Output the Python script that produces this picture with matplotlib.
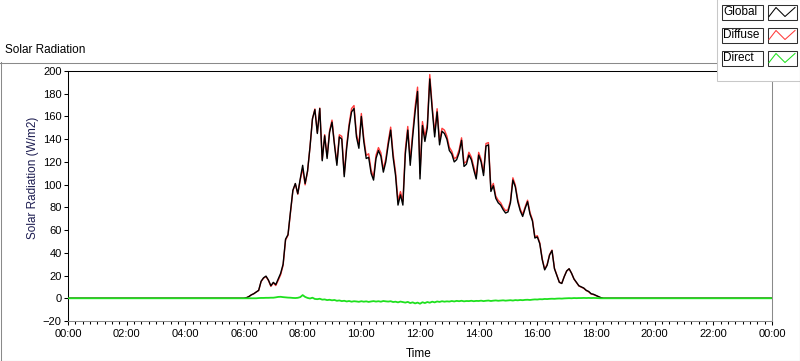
import matplotlib
matplotlib.use("Agg")
import matplotlib.pyplot as plt
import numpy as np
from matplotlib.patches import Rectangle
from matplotlib.lines import Line2D
from matplotlib.ticker import MultipleLocator, FuncFormatter

plt.rcParams["font.family"] = ["Liberation Sans", "DejaVu Sans"]

# series, 5-minute steps from 06:00 to 18:15 (W/m2)
series_names = ["Global", "Diffuse", "Direct"]
series_colors = ["#000000", "#ff3a3a", "#1ee01e"]

day_start_min = 6 * 60
step_min = 5

global_rad = [
    0, 0.5, 1.5, 3, 4, 5.5, 7, 15, 18, 19.5, 16, 11,
    14, 12, 17, 22, 30, 52, 56, 76, 95, 101, 92, 105,
    117, 101, 112, 133, 158, 166, 145, 167, 121, 143, 123, 146,
    155, 135, 117, 142, 140, 107, 132, 151, 164, 167, 142, 132,
    160, 138, 123, 124, 110, 104, 123, 130, 125, 111, 120, 135,
    148, 124, 108, 82, 91, 82, 127, 148, 117, 142, 164, 182,
    105, 152, 138, 150, 193, 166, 142, 164, 135, 147, 145, 140,
    130, 127, 120, 122, 128, 139, 116, 118, 126, 122, 113, 105,
    126, 120, 108, 134, 135, 94, 99, 88, 84, 82, 78, 75,
    76, 84, 104, 98, 85, 77, 72, 79, 85, 74, 68, 53,
    54, 48, 34, 25, 29, 38, 42, 26, 20, 14, 13, 19,
    24, 26, 22, 17, 14, 11, 10, 9, 7, 6, 4, 3.5,
    2.5, 1.5, 0.5, 0,
]

diffuse_rad = [
    0, 0.5, 1.5, 3, 4, 5.5, 6.8, 14.7, 17.7, 19.1, 15.6, 10.5,
    13.5, 11.2, 15.8, 20.7, 29.0, 51.2, 55.4, 75.5, 94.7, 100.8, 91.6, 104.0,
    114.2, 99.8, 111.7, 133.2, 157.5, 166.6, 145.8, 167.4, 122.2, 144.0, 124.6, 147.3,
    156.8, 136.5, 119.2, 143.9, 142.5, 109.2, 134.8, 153.4, 167.0, 169.6, 144.8, 135.1,
    162.6, 141.0, 125.7, 127.2, 112.8, 106.5, 125.9, 132.6, 128.0, 113.4, 122.7, 137.9,
    150.6, 127.3, 111.0, 85.6, 93.9, 85.4, 130.8, 151.2, 121.2, 145.6, 168.5, 185.8,
    109.8, 155.5, 142.2, 153.3, 196.9, 169.0, 145.6, 166.8, 138.2, 149.6, 148.0, 142.7,
    132.9, 129.4, 122.8, 124.3, 130.6, 141.2, 118.7, 120.4, 128.5, 124.2, 115.6, 107.3,
    128.4, 122.1, 110.5, 136.2, 137.0, 96.4, 101.1, 89.9, 86.2, 84.0, 79.8, 77.1,
    77.9, 85.7, 106.0, 99.6, 86.8, 78.5, 73.7, 80.4, 86.3, 75.5, 69.2, 54.0,
    55.1, 48.8, 34.9, 25.6, 29.7, 38.5, 42.4, 26.5, 20.3, 14.2, 13.3, 19.1,
    24.0, 25.9, 22.0, 16.8, 13.9, 10.8, 9.8, 8.7, 6.8, 5.7, 3.8, 3.2,
    2.3, 1.4, 0.5, 0,
]

direct_rad = [
    0, 0, 0, 0, 0, 0, 0.2, 0.3, 0.3, 0.4, 0.4, 0.5,
    0.5, 0.8, 1.2, 1.3, 1.0, 0.8, 0.6, 0.5, 0.3, 0.2, 0.4, 1.0,
    2.8, 1.2, 0.3, -0.2, 0.5, -0.6, -0.8, -0.4, -1.2, -1.0, -1.6, -1.3,
    -1.8, -1.5, -2.2, -1.9, -2.5, -2.2, -2.8, -2.4, -3.0, -2.6, -2.8, -3.1,
    -2.6, -3.0, -2.7, -3.2, -2.8, -2.5, -2.9, -2.6, -3.0, -2.4, -2.7, -2.9,
    -2.6, -3.3, -3.0, -3.6, -2.9, -3.4, -3.8, -3.2, -4.2, -3.6, -4.5, -3.8,
    -4.8, -3.5, -4.2, -3.3, -3.9, -3.0, -3.6, -2.8, -3.2, -2.6, -3.0, -2.7,
    -2.9, -2.4, -2.8, -2.3, -2.6, -2.2, -2.7, -2.4, -2.5, -2.2, -2.6, -2.3,
    -2.4, -2.1, -2.5, -2.2, -2.0, -2.4, -2.1, -1.9, -2.2, -2.0, -1.8, -2.1,
    -1.9, -1.7, -2.0, -1.6, -1.8, -1.5, -1.7, -1.4, -1.3, -1.5, -1.2, -1.0,
    -1.1, -0.8, -0.9, -0.6, -0.7, -0.5, -0.4, -0.5, -0.3, -0.2, -0.3, -0.1,
    0, 0.1, 0, 0.2, 0.1, 0.2, 0.2, 0.3, 0.2, 0.3, 0.2, 0.3,
    0.2, 0.1, 0, 0,
]

# night is flat zero: midnight anchors on both ends
day_minutes = day_start_min + step_min * np.arange(len(global_rad))
minutes = np.concatenate([[0], day_minutes, [24 * 60]])
hours = minutes / 60.0


def full_day(vals):
    return np.concatenate([[0], vals, [0]])


W, H = 800, 361
fig = plt.figure(figsize=(W / 100, H / 100), dpi=100)
fig.patch.set_facecolor("white")

ax = fig.add_axes([68 / W, (H - 321) / H, 704 / W, 250 / H])
lw = 0.75
ax.plot(hours, full_day(diffuse_rad), color=series_colors[1], lw=1.0, zorder=2)
ax.plot(hours, full_day(global_rad), color=series_colors[0], lw=1.0, zorder=3)
ax.plot(hours, full_day(direct_rad), color=series_colors[2], lw=1.3, zorder=4)

ax.set_xlim(0, 24)
ax.set_ylim(-20, 200)
ax.yaxis.set_major_locator(MultipleLocator(20))
ax.xaxis.set_major_locator(MultipleLocator(2))
ax.xaxis.set_minor_locator(MultipleLocator(0.25))
ax.xaxis.set_major_formatter(FuncFormatter(lambda v, p: "%02d:00" % (int(round(v)) % 24)))

for side in ["left", "top"]:
    ax.spines[side].set_color("black")
    ax.spines[side].set_linewidth(lw)
for side in ["right", "bottom"]:
    ax.spines[side].set_color("#8a8a8a")
    ax.spines[side].set_linewidth(lw)

ax.tick_params(axis="both", which="major", direction="out", length=3, width=lw,
               colors="black", labelsize=8, pad=1.5)
ax.tick_params(axis="x", which="minor", direction="out", length=2.5, width=lw, colors="black")
ax.tick_params(axis="x", which="major", pad=3)

fig.text(5 / W, 1 - 50 / H, "Solar Radiation", ha="left", va="center", fontsize=8.5)
fig.text(33 / W, 1 - 178 / H, "Solar Radiation (W/m2)", rotation=90,
         ha="center", va="center", fontsize=8.5, color="#1c1c50")
fig.text(419 / W, 1 - 354 / H, "Time", ha="center", va="center", fontsize=8.5)

# overlay in pixel coordinates for the panel frame and the legend
ov = fig.add_axes([0, 0, 1, 1], zorder=10)
ov.set_xlim(0, W)
ov.set_ylim(H, 0)
ov.axis("off")
ov.patch.set_alpha(0)

ov.add_line(Line2D([0.5, 0.5], [62, H], color="#8a8a8a", lw=lw))
ov.add_line(Line2D([0, 716], [62.5, 62.5], color="#8a8a8a", lw=lw))
ov.add_line(Line2D([799.5, 799.5], [62, H], color="black", lw=lw))
ov.add_line(Line2D([0, W], [360.5, 360.5], color="black", lw=lw))

ov.add_patch(Rectangle((716.5, -1), 84, 82, facecolor="white", edgecolor="#c8c8c8", lw=lw))
for i, name in enumerate(series_names):
    y0 = 4.5 + i * 23
    ov.add_patch(Rectangle((721.5, y0), 41, 15, facecolor="white", edgecolor="#303030", lw=lw))
    ov.text(723.5, y0 + 7.5, name, ha="left", va="center", fontsize=8.5)
    ov.add_patch(Rectangle((767.5, y0), 29, 15, facecolor="white", edgecolor="#303030", lw=lw))
    ov.add_line(Line2D([769, 776, 785, 795], [y0 + 12, y0 + 3, y0 + 12, y0 + 3],
                       color=series_colors[i], lw=lw))

fig.savefig("out.png", dpi=100, facecolor="white")
